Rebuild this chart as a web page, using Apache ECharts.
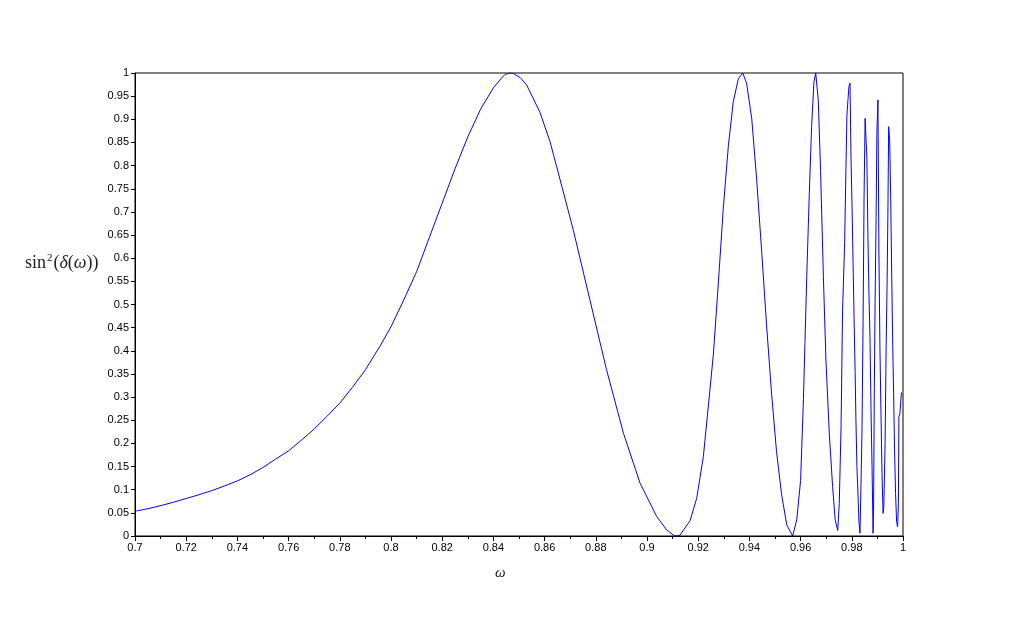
<!DOCTYPE html>
<html>
<head>
<meta charset="utf-8">
<script src="https://cdn.jsdelivr.net/npm/echarts@6/dist/echarts.min.js"></script>
<style>
  html, body { margin: 0; padding: 0; background: #fff; }
  #chart { width: 1024px; height: 618px; }
</style>
</head>
<body>
<div id="chart"></div>
<script>
  // values
  const omega = [
    0.7005, 0.7059, 0.711, 0.715, 0.72, 0.7249, 0.73, 0.7349, 0.74, 0.7449,
    0.75, 0.7549, 0.76, 0.7648, 0.77, 0.7749, 0.78, 0.7849, 0.79, 0.7957,
    0.80, 0.805, 0.81, 0.815, 0.82, 0.825, 0.83, 0.835, 0.84, 0.843, 0.8446,
    0.8465, 0.8478, 0.8505, 0.853, 0.8582, 0.8621, 0.8647, 0.8712, 0.8777, 0.8842,
    0.8908, 0.8973, 0.9038, 0.9077, 0.9103, 0.9116, 0.9129, 0.9168, 0.9194, 0.922,
    0.924, 0.9259, 0.9279, 0.9298, 0.9318, 0.9337, 0.9357, 0.9374, 0.9389, 0.9409,
    0.9428, 0.9448, 0.9467, 0.9487, 0.9506, 0.9526, 0.9546, 0.9569, 0.9585, 0.96,
    0.9611, 0.9617, 0.9624, 0.9634, 0.9643, 0.9652, 0.9659,
    0.9669, 0.9678, 0.9689, 0.9699, 0.9712, 0.9725, 0.9735, 0.9745, 0.9751, 0.9758,
    0.9764, 0.9772, 0.9777, 0.9781, 0.9785, 0.9789, 0.9793, 0.9797, 0.9801, 0.9805,
    0.9809, 0.9813, 0.9816, 0.982, 0.9824, 0.9828, 0.9832, 0.9836, 0.984, 0.9844,
    0.9848, 0.9852, 0.9856, 0.9859, 0.9863, 0.9867, 0.9871, 0.9875, 0.9879, 0.9883,
    0.9885, 0.9888, 0.9891, 0.9895, 0.9898, 0.9902, 0.9906, 0.991, 0.9914, 0.9918,
    0.9922, 0.9925, 0.993, 0.9934, 0.9938, 0.9941, 0.9944, 0.9948, 0.9952, 0.9956,
    0.996, 0.9964, 0.9967, 0.9971, 0.9975, 0.9979, 0.9982, 0.9984, 0.9988, 0.9994
  ];
  const sinSq = [
    0.054, 0.060, 0.067, 0.073, 0.081, 0.089, 0.098, 0.108, 0.119, 0.132,
    0.148, 0.166, 0.184, 0.206, 0.231, 0.258, 0.287, 0.321, 0.359, 0.410,
    0.452, 0.510, 0.571, 0.645, 0.719, 0.793, 0.862, 0.922, 0.968, 0.988, 0.997,
    1.0, 0.999, 0.990, 0.974, 0.915, 0.852, 0.798, 0.661, 0.510, 0.359,
    0.222, 0.114, 0.042, 0.013, 0.002, 0.0, 0.002, 0.033, 0.081, 0.171,
    0.283, 0.391, 0.549, 0.708, 0.844, 0.938, 0.988, 1.0, 0.978, 0.902,
    0.773, 0.614, 0.456, 0.305, 0.182, 0.089, 0.024, 0.0, 0.035, 0.12,
    0.294, 0.416, 0.560, 0.740, 0.884, 0.98, 1.0,
    0.942, 0.79, 0.56, 0.38, 0.222, 0.107, 0.035, 0.012, 0.07, 0.236,
    0.488, 0.632, 0.790, 0.909, 0.942, 0.971, 0.978, 0.812, 0.711, 0.589,
    0.467, 0.355, 0.254, 0.150, 0.092, 0.031, 0.006, 0.114, 0.236, 0.463,
    0.737, 0.902, 0.852, 0.816, 0.647, 0.524, 0.431, 0.272, 0.153, 0.006,
    0.049, 0.319, 0.510, 0.690, 0.870, 0.942, 0.611, 0.402, 0.265, 0.135,
    0.049, 0.063, 0.200, 0.402, 0.553, 0.697, 0.884, 0.855, 0.726, 0.560,
    0.409, 0.287, 0.186, 0.092, 0.031, 0.020, 0.07, 0.258, 0.265, 0.31
  ];

  const chart = echarts.init(document.getElementById('chart'), null, { renderer: 'canvas' });

  const labelFont = { color: '#000', fontSize: 11, fontFamily: 'Liberation Sans' };

  chart.setOption({
    animation: false,
    backgroundColor: '#fff',
    grid: {
      left: 135, right: 121, top: 73, bottom: 82,
      show: true, borderColor: '#000', borderWidth: 1
    },
    xAxis: {
      type: 'value',
      min: 0.7, max: 1, interval: 0.02,
      axisLine: { lineStyle: { color: '#000', width: 1 } },
      axisTick: { inside: false, length: 5, lineStyle: { color: '#000' } },
      minorTick: { show: true, splitNumber: 2, length: 3, lineStyle: { color: '#000' } },
      axisLabel: Object.assign({ margin: 6 }, labelFont),
      splitLine: { show: false }
    },
    yAxis: {
      type: 'value',
      min: 0, max: 1, interval: 0.05,
      axisLine: { show: true, lineStyle: { color: '#000', width: 1 } },
      axisTick: { show: true, inside: false, length: 4, lineStyle: { color: '#000' } },
      axisLabel: Object.assign({ margin: 6 }, labelFont),
      splitLine: { show: false }
    },
    graphic: [
      {
        type: 'text', left: 25, top: 253,
        style: {
          text: '{n|sin}{s|2}{n|(}{i|δ}{n|(}{i|ω}{n|))}',
          rich: {
            n: { fontFamily: 'Liberation Serif', fontSize: 18, fill: '#222' },
            i: { fontFamily: 'Liberation Serif', fontStyle: 'italic', fontSize: 18, fill: '#222' },
            s: { fontFamily: 'Liberation Serif', fontSize: 11, fill: '#222', verticalAlign: 'top', padding: [0, 1, 9, 1] }
          }
        }
      },
      {
        type: 'text', left: 495, top: 566,
        style: { text: 'ω', fontFamily: 'Liberation Serif', fontStyle: 'italic', fontSize: 15, fill: '#222' }
      }
    ],
    series: [
      {
        type: 'line',
        data: omega.map((w, i) => [w, sinSq[i]]),
        showSymbol: false,
        smooth: false,
        lineStyle: { color: '#0000ff', width: 1 }
      }
    ]
  });
</script>
</body>
</html>
